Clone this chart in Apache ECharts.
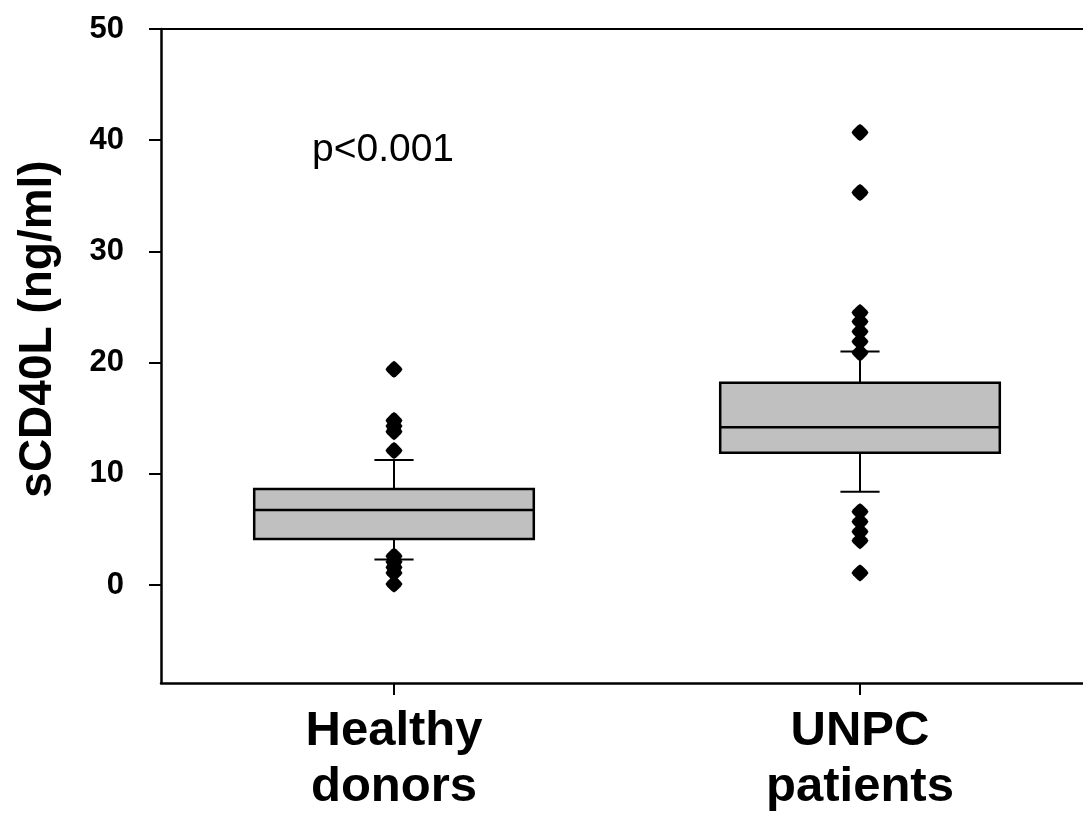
<!DOCTYPE html>
<html>
<head>
<meta charset="utf-8">
<script src="https://cdn.jsdelivr.net/npm/echarts@6/dist/echarts.min.js"></script>
<style>
html,body{margin:0;padding:0;background:#fff;}
#chart{width:1083px;height:814px;}
</style>
</head>
<body>
<div id="chart"></div>
<script>
// ---- data ----
const categories = ['Healthy\ndonors', 'UNPC\npatients'];
const whiskerLow  = [2.3, 8.4];
const q1          = [4.15, 11.9];
const median      = [6.75, 14.2];
const q3          = [8.65, 18.2];
const whiskerHigh = [11.25, 21.0];
const healthyOutliers = [19.4, 14.8, 14.3, 13.8, 12.1, 2.6, 2.1, 1.6, 1.1, 0.1];
const unpcOutliers = [40.7, 35.3, 24.5, 23.7, 22.8, 21.9, 20.9, 6.6, 5.7, 4.8, 4.0, 1.1];
const yTicks = [0, 10, 20, 30, 40, 50];
const yName = 'sCD40L (ng/ml)';
const pText = 'p<0.001';

const FONT = "'Liberation Sans', Arial, sans-serif";

const boxData = categories.map((c, i) => [i, whiskerLow[i], q1[i], median[i], q3[i], whiskerHigh[i]]);
const outlierData = [];
healthyOutliers.forEach(v => outlierData.push([0, v]));
unpcOutliers.forEach(v => outlierData.push([1, v]));

const chart = echarts.init(document.getElementById('chart'), null, {renderer: 'canvas'});

function renderBox(params, api) {
  const x = api.value(0);
  const lo = api.value(1), a = api.value(2), m = api.value(3), b = api.value(4), hi = api.value(5);
  const band = api.size([1, 0])[0];
  const bw = band * 0.6;
  const cw = band * 0.084;
  const pLo = api.coord([x, lo]), pA = api.coord([x, a]), pM = api.coord([x, m]),
        pB = api.coord([x, b]), pHi = api.coord([x, hi]);
  const cx = pA[0];
  const lineStyle = {stroke: '#000', lineWidth: 2};
  return {
    type: 'group',
    children: [
      {type: 'line', shape: {x1: cx, y1: pB[1], x2: cx, y2: pHi[1]}, style: lineStyle},
      {type: 'line', shape: {x1: cx, y1: pA[1], x2: cx, y2: pLo[1]}, style: lineStyle},
      {type: 'line', shape: {x1: cx - cw / 2, y1: pHi[1], x2: cx + cw / 2, y2: pHi[1]}, style: lineStyle},
      {type: 'line', shape: {x1: cx - cw / 2, y1: pLo[1], x2: cx + cw / 2, y2: pLo[1]}, style: lineStyle},
      {type: 'rect', shape: {x: cx - bw / 2, y: pB[1], width: bw, height: pA[1] - pB[1]},
        style: {fill: '#c0c0c0', stroke: '#000', lineWidth: 2.5}},
      {type: 'line', shape: {x1: cx - bw / 2, y1: pM[1], x2: cx + bw / 2, y2: pM[1]},
        style: {stroke: '#000', lineWidth: 2.5}}
    ]
  };
}

const option = {
  backgroundColor: '#fff',
  animation: false,
  grid: {left: 161, top: 29, width: 932, height: 654, containLabel: false, outerBoundsMode: 'none'},
  xAxis: [{
    type: 'category',
    data: categories,
    position: 'bottom',
    axisLine: {show: true, onZero: false, lineStyle: {color: '#000', width: 2.5}},
    axisTick: {show: true, alignWithLabel: true, length: 12, lineStyle: {color: '#000', width: 2}},
    axisLabel: {color: '#000', fontFamily: FONT, fontWeight: 'bold', fontSize: 49, lineHeight: 56, margin: 20, interval: 0},
    splitLine: {show: false}
  }, {
    type: 'category',
    data: categories,
    position: 'top',
    axisLine: {show: true, onZero: false, lineStyle: {color: '#000', width: 2}},
    axisTick: {show: false},
    axisLabel: {show: false},
    splitLine: {show: false}
  }],
  yAxis: {
    type: 'value',
    min: -8.8,
    max: 50,
    name: yName,
    nameLocation: 'middle',
    nameGap: 100,
    nameTextStyle: {color: '#000', fontFamily: FONT, fontWeight: 'bold', fontSize: 46, padding: [0, 0, 0, 54]},
    axisLine: {show: true, onZero: false, lineStyle: {color: '#000', width: 2.5}},
    axisTick: {show: true, length: 12, customValues: yTicks, lineStyle: {color: '#000', width: 2}},
    axisLabel: {color: '#000', fontFamily: FONT, fontWeight: 'bold', fontSize: 31, margin: 37, customValues: yTicks},
    splitLine: {show: false}
  },
  series: [{
    type: 'custom',
    renderItem: renderBox,
    data: boxData,
    encode: {x: 0, y: [1, 2, 3, 4, 5]},
    z: 2
  }, {
    type: 'scatter',
    data: outlierData,
    symbol: 'path://M50,0 L64,9 L91,36 L100,50 L91,64 L64,91 L50,100 L36,91 L9,64 L0,50 L9,36 L36,9 Z',
    symbolSize: 17,
    itemStyle: {color: '#000', opacity: 1},
    z: 3
  }],
  graphic: [{
    type: 'text',
    left: 312,
    top: 131,
    style: {text: pText, fill: '#000', font: "normal 39px 'Liberation Sans', Arial, sans-serif"}
  }]
};
chart.setOption(option);
</script>
</body>
</html>
